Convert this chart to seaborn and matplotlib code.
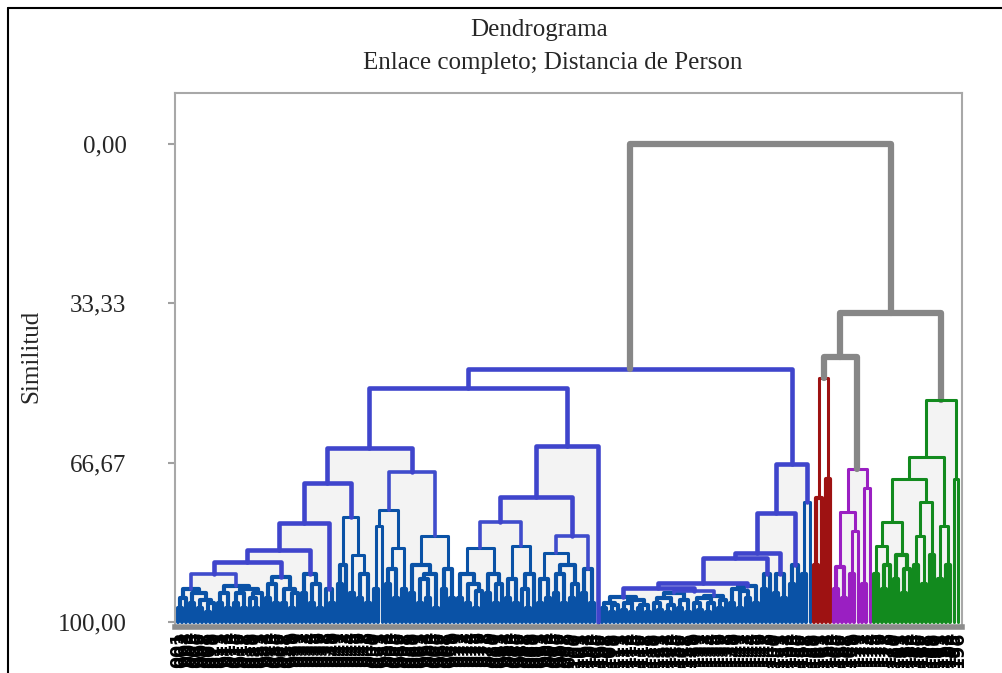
import numpy as np
import pandas as pd
import matplotlib
matplotlib.use("Agg")
import matplotlib.pyplot as plt
from matplotlib.lines import Line2D
import seaborn as sns

sns.set_theme(style="white")
plt.rcParams["font.family"] = ["Liberation Serif", "DejaVu Serif"]

# Similitud (%) a la que se unen dos hojas vecinas, en el orden del dendrograma.
# Cada grupo lleva su propia lista; las uniones entre grupos van aparte.
blue_left = [
    97, 95, 93, 96, 94, 97, 95.5, 98, 96,            # 178-214
    90,
    96, 94, 97, 92.5, 96, 94, 97, 93, 95, 97, 94,    # 218-262
    87.4,
    95, 92, 96, 90.5, 96, 93, 97, 94,                # 266-298
    85,
    94, 90, 96, 92, 97,
    79.3,
    93, 96,
    71,
    92, 88, 78, 94, 86, 95, 90, 96,
    63.6,
    93, 80, 76.6, 92, 89, 95, 84.5, 93, 68.6, 94,
    88, 96, 91, 95, 90, 97, 82, 93, 89, 95,
    51,
    95, 90, 96, 92, 97, 93.5, 84.5, 94, 90, 96, 92, 79,
    95, 91, 96, 84, 93, 97, 90, 73.8, 96, 91, 95, 85.6,
    94, 90, 96, 88, 95, 92, 82, 94, 89, 96,
    63.2,
]
blue_right = [
    97, 96, 98, 96.5, 94.8, 97.5, 96, 98, 95.5, 97, 96.5, 98,
    92.9,
    96, 97.5, 95, 98, 96.5, 94, 97, 95.5, 98, 93.5, 96, 97.5,
    95, 98, 96, 94.5, 97, 95.5,
    91.8,
    96, 93, 97, 93.5, 95, 92.5, 96,
    86.6,
    93, 90,
    85.6,
    94, 90, 95,
    77.2,
    92, 88,
    66.9,
    90, 75,
]
red = [88, 74, 49, 70]
purple = [93, 88.5, 95, 77, 90, 81, 68, 92, 72]
green = [90, 84, 93, 88, 79, 91, 86, 94, 89, 70, 88, 82, 92, 75, 86,
         65.5, 91, 80, 88, 53.6, 70]

join_blue = 47.0
join_root = 0.0
join_red_purple = 44.6
join_rest = 35.3

y_ticks = [0, 33.33, 66.67, 100]
y_tick_labels = ["0,00", "33,33", "66,67", "100,00"]

gaps = np.array(blue_left + [join_blue] + blue_right + [join_root] + red
                + [join_red_purple] + purple + [join_rest] + green, dtype=float)
n_leaves = len(gaps) + 1
leaf_labels = [f"{i + 1:03d}" for i in range(n_leaves)]

leaf_cluster = (["blue"] * (len(blue_left) + len(blue_right) + 2)
                + ["red"] * (len(red) + 1)
                + ["purple"] * (len(purple) + 1)
                + ["green"] * (len(green) + 1))

links = []


def build(lo, hi):
    """Arbol a partir de las similitudes entre hojas vecinas."""
    if lo == hi:
        return float(lo), 100.0
    i = lo + int(np.argmin(gaps[lo:hi]))
    xl, hl = build(lo, i)
    xr, hr = build(i + 1, hi)
    h = gaps[i]
    links.append(dict(lo=lo, hi=hi, xl=xl, hl=hl, xr=xr, hr=hr, h=h))
    return (xl + xr) / 2, h


build(0, n_leaves - 1)


def link_style(lk):
    size = lk["hi"] - lk["lo"] + 1
    if lk["h"] < 46:
        return "gray", "w_gray"
    cl = leaf_cluster[lk["lo"]]
    if cl == "blue":
        if size >= 30:
            return "blue_top", "w_top"
        if size >= 14:
            return "blue", "w_mid"
        return "blue_dense", ("w_dense" if lk["h"] >= 88 else "w_small")
    if cl == "red" and lk["h"] > 60:
        return cl, "w_dense"
    return cl, ("w_dense" if lk["h"] >= 86 else "w_small")


rows = []
for k, lk in enumerate(links):
    col, wid = link_style(lk)
    for x, y in [(lk["xl"], lk["hl"]), (lk["xl"], lk["h"]),
                 (lk["xr"], lk["h"]), (lk["xr"], lk["hr"])]:
        rows.append(dict(link=k, x=x, y=y, color=col, width=wid))
seg = pd.DataFrame(rows)

palette = {"gray": "#878787", "blue_top": "#3f45cc", "blue": "#3f4ccc",
           "blue_dense": "#0a52a6", "red": "#9e1212", "purple": "#9a1fc2",
           "green": "#128a1e"}
widths = {"w_gray": 4.5, "w_top": 3.3, "w_mid": 2.6, "w_small": 2.2,
          "w_dense": 3.0}

fig = plt.figure(figsize=(10.02, 6.73), dpi=100)
ax = fig.add_axes([175 / 1002, 46 / 673, 787 / 1002, 534 / 673])

# fondo gris claro dentro de los enlaces bajos
for lk in links:
    if lk["h"] >= 52:
        ax.bar((lk["xl"] + lk["xr"]) / 2, 100 - lk["h"], bottom=lk["h"],
               width=lk["xr"] - lk["xl"], color="#f3f3f3", zorder=0.5, linewidth=0)

sns.lineplot(data=seg, x="x", y="y", units="link", estimator=None, sort=False,
             hue="color", palette=palette, size="width", sizes=widths,
             legend=False, ax=ax, zorder=2)

ax.set_xlim(-0.75, n_leaves)
ax.set_ylim(101.05, -10.67)

ax.set_xticks(range(n_leaves))
ax.set_xticklabels(leaf_labels, rotation=90, fontsize=12.5, fontweight="heavy",
                   family="DejaVu Sans", color="black")
ax.tick_params(axis="x", length=0, pad=3)
ax.set_yticks(y_ticks)
ax.set_yticklabels(y_tick_labels, fontsize=18)
ax.tick_params(axis="y", left=True, length=5, width=1.5, color="#a0a0a0", pad=30)
ax.set_xlabel("")
ax.set_ylabel("Similitud", fontsize=18)
ax.yaxis.set_label_coords(-0.168, 0.506)

for side in ["left", "top", "right"]:
    ax.spines[side].set_color("#a8a8a8")
    ax.spines[side].set_linewidth(1.5)
ax.spines["bottom"].set_color("#8c8c8c")
ax.spines["bottom"].set_linewidth(4)

fig.text(539 / 1002, 1 - 30 / 673, "Dendrograma", ha="center", va="center", fontsize=18)
fig.text(553 / 1002, 1 - 63 / 673, "Enlace completo; Distancia de Person",
         ha="center", va="center", fontsize=18)

# marco de la figura
fig.add_artist(Line2D([8 / 1002, 8 / 1002], [0, 1 - 8 / 673], color="black",
                      linewidth=1.5, transform=fig.transFigure))
fig.add_artist(Line2D([8 / 1002, 1], [1 - 8 / 673, 1 - 8 / 673], color="black",
                      linewidth=1.5, transform=fig.transFigure))

fig.savefig("out.png", dpi=100)
